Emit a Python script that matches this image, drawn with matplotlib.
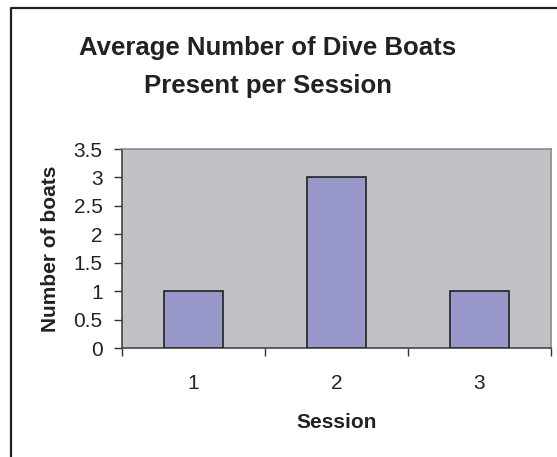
import numpy as np
import matplotlib.pyplot as plt
from matplotlib.lines import Line2D

plt.rcParams['font.family'] = ['Liberation Sans', 'DejaVu Sans']

### Data
sessions = ['1', '2', '3']
boats = [1, 3, 1]
yticks = [0, 0.5, 1, 1.5, 2, 2.5, 3, 3.5]
ytick_labels = ['0', '0.5', '1', '1.5', '2', '2.5', '3', '3.5']

W, H = 557, 457
fig = plt.figure(figsize=(W/100, H/100), dpi=100)

# chart frame (only top and left edges fall inside the image)
fig.add_artist(Line2D([11/W, 11/W, 1.0], [0.0, 1 - 8/H, 1 - 8/H],
                      transform=fig.transFigure, color='#222222', lw=1.6))

ax = fig.add_axes([122/W, 1 - 348/H, (551 - 122)/W, (348 - 149)/H])
ax.set_facecolor('#c1c2c6')

x = np.arange(len(sessions))
ax.bar(x, boats, width=0.41, color='#9797c9', edgecolor='#222222', linewidth=1.2, zorder=3)

ax.set_xlim(-0.5, len(sessions) - 0.5)
ax.set_ylim(0, 3.5)
ax.set_yticks(yticks)
ax.set_yticklabels(ytick_labels)

# category labels centred, tick marks on category boundaries
ax.set_xticks(x)
ax.set_xticklabels(sessions)
ax.tick_params(axis='x', which='major', length=0, pad=19)
ax.set_xticks(np.arange(-0.5, len(sessions)), minor=True)
ax.tick_params(axis='x', which='minor', length=6, width=1, color='#333333', direction='out')
ax.tick_params(axis='y', length=6, width=1, color='#333333', direction='out', pad=8)
ax.tick_params(labelsize=15, labelcolor='#222222')

for side in ['top', 'right']:
    ax.spines[side].set_color('#8a8a8a')
    ax.spines[side].set_linewidth(1.2)
for side in ['left', 'bottom']:
    ax.spines[side].set_color('#444444')
    ax.spines[side].set_linewidth(1.2)

ax.set_xlabel('Session', fontsize=15, fontweight='bold', color='#222222', labelpad=14)
ax.set_ylabel('Number of boats', fontsize=15, fontweight='bold', color='#222222', labelpad=10)

fig.text(268/W, 1 - 67/H, 'Average Number of Dive Boats\nPresent per Session',
         ha='center', va='center', fontsize=18.5, fontweight='bold', color='#222222',
         linespacing=1.75)

fig.savefig('out.png', dpi=100)
